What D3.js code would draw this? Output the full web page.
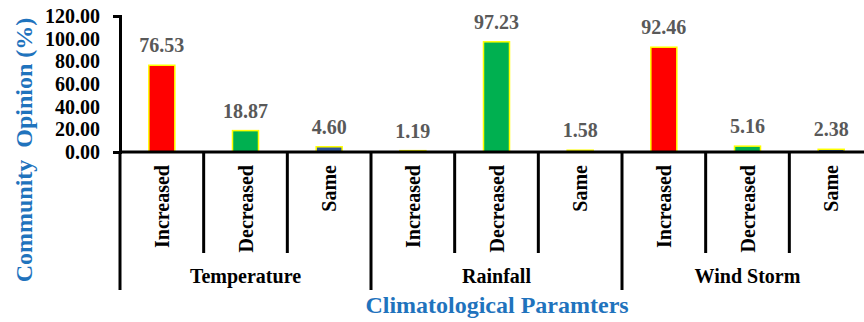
<!DOCTYPE html>
<html>
<head>
<meta charset="utf-8">
<script src="https://cdn.jsdelivr.net/npm/d3@7"></script>
<style>
  html, body { margin: 0; padding: 0; background: #ffffff; }
  svg { display: block; }
  text { font-family: "Liberation Serif", "Times New Roman", serif; font-weight: bold; }
</style>
</head>
<body>
<svg id="chart" width="864" height="322"></svg>
<script>
// Climatological parameters and the community's perceived change in each
const groups = ["Temperature", "Rainfall", "Wind Storm"];
const responses = ["Increased", "Decreased", "Same"];
const temperature = [76.53, 18.87, 4.60];
const rainfall = [1.19, 97.23, 1.58];
const windStorm = [92.46, 5.16, 2.38];
const yTicks = [0, 20, 40, 60, 80, 100, 120];

const responseColors = { Increased: "#ff0000", Decreased: "#00b050", Same: "#2f5597" };

const seriesByGroup = [temperature, rainfall, windStorm];
const rows = [];
groups.forEach((g, gi) => {
  responses.forEach((r, ri) => {
    rows.push({ key: g + "|" + r, group: g, response: r, value: seriesByGroup[gi][ri] });
  });
});

const svg = d3.select("#chart");
const plotLeft = 120, plotRight = 873, plotTop = 16, plotBase = 152;

const x = d3.scaleBand().domain(rows.map(d => d.key)).range([plotLeft, plotRight]).paddingInner(0).paddingOuter(0);
const y = d3.scaleLinear().domain([0, 120]).range([plotBase, plotTop]);
const barW = 26;

// Bars
svg.append("g").selectAll("rect").data(rows).join("rect")
  .attr("x", d => x(d.key) + x.bandwidth() / 2 - barW / 2)
  .attr("y", d => y(d.value))
  .attr("width", barW)
  .attr("height", d => y(0) - y(d.value))
  .attr("fill", d => responseColors[d.response])
  .attr("stroke", "#ffff00")
  .attr("stroke-width", 1.5);

// Value labels above the bars
svg.append("g").selectAll("text").data(rows).join("text")
  .attr("x", d => x(d.key) + x.bandwidth() / 2)
  .attr("y", d => y(d.value) - 13)
  .attr("text-anchor", "middle")
  .attr("font-size", 20)
  .attr("fill", "#595959")
  .text(d => d.value.toFixed(2));

// Y axis
const yAxis = svg.append("g")
  .attr("transform", `translate(${plotLeft},0)`)
  .call(d3.axisLeft(y).tickValues(yTicks).tickFormat(d => d.toFixed(2)).tickSize(0).tickSizeOuter(7).tickPadding(20));
yAxis.select(".domain").attr("stroke", "#000").attr("stroke-width", 3);
yAxis.selectAll(".tick text")
  .attr("font-size", 20)
  .attr("font-family", "Liberation Serif, serif")
  .attr("font-weight", "bold")
  .attr("fill", "#000");

// Baseline across the plot
svg.append("line")
  .attr("x1", plotLeft).attr("x2", 864)
  .attr("y1", plotBase).attr("y2", plotBase)
  .attr("stroke", "#000").attr("stroke-width", 3);

// Category separators: long ones between groups, short ones within
const boundaries = rows.map((d, i) => ({ pos: x(d.key), long: i % 3 === 0 }));
boundaries.push({ pos: plotRight, long: true });
svg.append("g").selectAll("line").data(boundaries).join("line")
  .attr("x1", d => d.pos).attr("x2", d => d.pos)
  .attr("y1", plotBase).attr("y2", d => d.long ? 290 : 253)
  .attr("stroke", "#000").attr("stroke-width", 3);

// Rotated response labels
svg.append("g").selectAll("text").data(rows).join("text")
  .attr("transform", d => `translate(${x(d.key) + x.bandwidth() / 2},165) rotate(-90)`)
  .attr("text-anchor", "end")
  .attr("dy", "0.35em")
  .attr("font-size", 20)
  .attr("fill", "#000")
  .text(d => d.response);

// Group labels
svg.append("g").selectAll("text").data(groups).join("text")
  .attr("x", g => {
    const ks = rows.filter(d => d.group === g).map(d => d.key);
    return (x(ks[0]) + x(ks[ks.length - 1]) + x.bandwidth()) / 2;
  })
  .attr("y", 283)
  .attr("text-anchor", "middle")
  .attr("font-size", 20)
  .attr("fill", "#000")
  .text(g => g);

// Axis titles
svg.append("text")
  .attr("x", 497).attr("y", 313)
  .attr("text-anchor", "middle")
  .attr("font-size", 24)
  .attr("fill", "#1f73bd")
  .text("Climatological Paramters");

svg.append("text")
  .attr("transform", "translate(24,150) rotate(-90)")
  .attr("text-anchor", "middle")
  .attr("dy", "0.35em")
  .attr("font-size", 24)
  .attr("fill", "#1f73bd")
  .attr("xml:space", "preserve")
  .style("white-space", "pre")
  .text("Community  Opinion (%)");
</script>
</body>
</html>
